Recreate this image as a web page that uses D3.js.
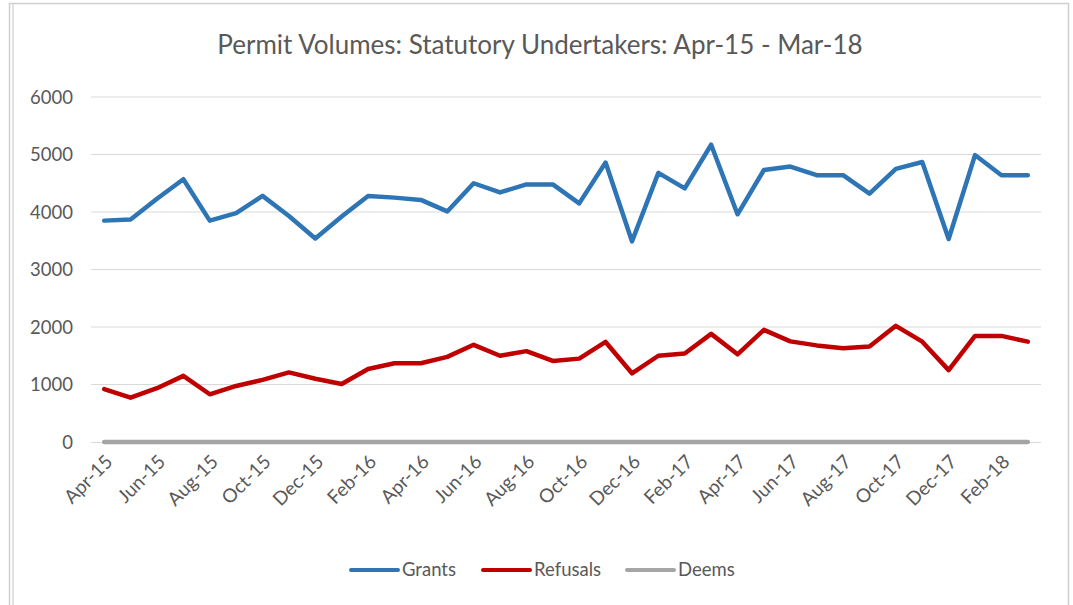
<!DOCTYPE html>
<html>
<head>
<meta charset="utf-8">
<script src="https://cdn.jsdelivr.net/npm/d3@7"></script>
<style>
  html, body { margin: 0; padding: 0; background: #ffffff; }
  svg { display: block; }
  text { font-family: Lato, "Noto Sans", sans-serif; fill: #595959; }
</style>
</head>
<body>
<svg id="chart" width="1073" height="605"></svg>
<script>
const months = ["Apr-15","May-15","Jun-15","Jul-15","Aug-15","Sep-15","Oct-15","Nov-15","Dec-15","Jan-16","Feb-16","Mar-16",
  "Apr-16","May-16","Jun-16","Jul-16","Aug-16","Sep-16","Oct-16","Nov-16","Dec-16","Jan-17","Feb-17","Mar-17",
  "Apr-17","May-17","Jun-17","Jul-17","Aug-17","Sep-17","Oct-17","Nov-17","Dec-17","Jan-18","Feb-18","Mar-18"];
const grants = [3850,3870,4230,4570,3850,3980,4280,3930,3540,3920,4280,4250,
  4210,4010,4500,4340,4480,4480,4150,4860,3490,4680,4410,5170,
  3960,4730,4790,4640,4640,4320,4750,4870,3530,4990,4640,4640];
const refusals = [920,770,935,1150,830,975,1080,1210,1100,1010,1270,1370,
  1370,1480,1690,1500,1580,1410,1450,1740,1195,1500,1540,1880,
  1525,1950,1750,1680,1630,1660,2020,1745,1250,1845,1845,1745];
const deems = new Array(36).fill(0);
const yTicks = [0,1000,2000,3000,4000,5000,6000];
const tickLabels = months.filter((m, i) => i % 2 === 0);
const title = "Permit Volumes: Statutory Undertakers: Apr-15 - Mar-18";

const seriesNames = ["Grants","Refusals","Deems"];
const seriesValues = [grants, refusals, deems];
const colors = ["#2e75b6","#c00000","#a5a5a5"];

const svg = d3.select("#chart");

// frame
svg.append("rect").attr("x",9.5).attr("y",3.5).attr("width",1059).attr("height",620)
  .attr("fill","none").attr("stroke","#d0d0d0").attr("stroke-width",1.5);
svg.append("line").attr("x1",13).attr("x2",13).attr("y1",4).attr("y2",605)
  .attr("stroke","#d9d9d9").attr("stroke-width",1.5);

const x = d3.scalePoint().domain(months).range([91,1041]).padding(0.5);
const y = d3.scaleLinear().domain([0,6000]).range([442,97]);

// gridlines
svg.append("g").selectAll("line").data(yTicks.filter(d => d > 0)).join("line")
  .attr("x1",91).attr("x2",1041)
  .attr("y1",d => y(d)).attr("y2",d => y(d))
  .attr("stroke","#d9d9d9").attr("stroke-width",1);

// y axis labels
const yAxis = d3.axisLeft(y).tickValues(yTicks).tickSize(0).tickPadding(0).tickFormat(d3.format("d"));
const yg = svg.append("g").attr("transform","translate(73,0)").call(yAxis);
yg.select(".domain").remove();
yg.selectAll("text").style("font-size","18.5px").attr("fill","#595959").attr("dy","0.35em");

// x axis
const xAxis = d3.axisBottom(x).tickValues(tickLabels).tickSize(0).tickPadding(0);
const xg = svg.append("g").attr("transform","translate(0,442)").call(xAxis);
xg.select(".domain").attr("stroke","#d9d9d9").attr("d","M91,0.5H1041");
xg.selectAll("text")
  .style("font-size","19px").attr("fill","#595959")
  .attr("text-anchor","end")
  .attr("dy",null)
  .attr("y",null)
  .attr("transform","translate(9,21) rotate(-45)");

// lines
const line = d3.line().x((d,i) => x(months[i])).y(d => y(d));
svg.append("g").selectAll("path").data([2,1,0]).join("path")
  .attr("d", k => line(seriesValues[k]))
  .attr("fill","none")
  .attr("stroke", k => colors[k])
  .attr("stroke-width",4.5)
  .attr("stroke-linejoin","round")
  .attr("stroke-linecap","round");

// title
svg.append("text").attr("x",540).attr("y",54).attr("text-anchor","middle")
  .style("font-size","26px").attr("fill","#595959").text(title);

// legend
const legendX = [351, 483, 627];
const lg = svg.append("g").selectAll("g").data(seriesNames).join("g")
  .attr("transform",(d,i) => `translate(${legendX[i]},570)`);
lg.append("line").attr("x1",0).attr("x2",47).attr("y1",0).attr("y2",0)
  .attr("stroke",(d,i) => colors[i]).attr("stroke-width",4).attr("stroke-linecap","round");
lg.append("text").attr("x",51).attr("y",0).attr("dy","0.35em")
  .style("font-size","18.5px").attr("fill","#595959").text(d => d);
</script>
</body>
</html>
